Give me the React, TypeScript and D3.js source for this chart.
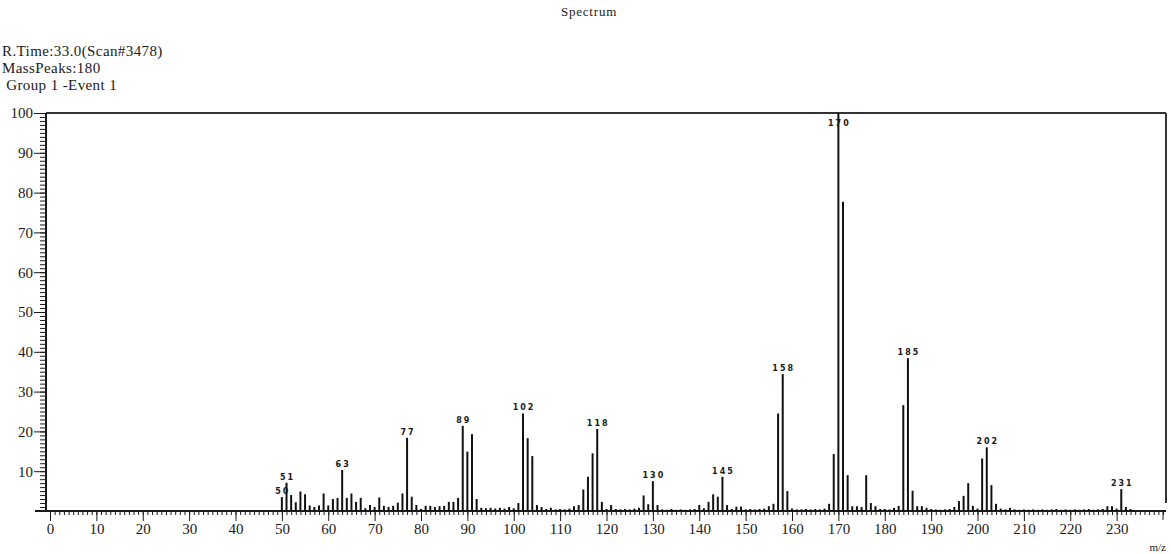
import React, { useRef, useEffect } from 'react';
import * as d3 from 'd3';

// m/z values 50..233 and their relative intensities
const massNumbers = d3.range(50, 234);
const intensities = [
  3.5, 7.1, 4.0, 2.2, 4.9, 4.2, 1.4, 1.0, 1.4, 4.4, // 50-59
  1.4, 3.0, 3.3, 10.3, 3.3, 4.4, 2.3, 3.3, 0.7, 1.5, // 60-69
  1.0, 3.4, 1.3, 1.0, 1.3, 2.1, 4.4, 18.4, 3.6, 1.5, // 70-79
  0.5, 1.3, 1.3, 1.0, 1.2, 1.3, 2.3, 2.3, 3.3, 21.4, // 80-89
  14.9, 19.3, 3.0, 0.8, 0.7, 0.8, 0.6, 0.8, 0.6, 1.0, // 90-99
  0.7, 2.0, 24.5, 18.3, 13.8, 1.5, 1.0, 0.5, 0.8, 0.4, // 100-109
  0.5, 0.4, 0.6, 1.2, 1.5, 5.4, 8.6, 14.5, 20.6, 2.3, // 110-119
  0.5, 1.5, 0.5, 0.4, 0.5, 0.4, 0.6, 0.8, 3.9, 1.7, // 120-129
  7.5, 1.5, 0.4, 0.3, 0.5, 0.3, 0.4, 0.3, 0.4, 0.5, // 130-139
  1.5, 0.7, 2.3, 4.2, 3.6, 8.6, 1.5, 0.5, 1.1, 1.1, // 140-149
  0.4, 0.5, 0.4, 0.5, 0.6, 1.2, 1.8, 24.5, 34.4, 5.0, // 150-159
  0.6, 0.4, 0.4, 0.5, 0.4, 0.5, 0.4, 0.6, 1.8, 14.3, // 160-169
  100, 77.7, 9.0, 1.2, 1.2, 1.0, 9.0, 2.0, 1.2, 0.5, // 170-179
  0.5, 0.4, 0.8, 1.3, 26.6, 38.4, 5.1, 1.2, 1.2, 0.8, // 180-189
  0.5, 0.4, 0.3, 0.4, 0.5, 1.0, 2.5, 3.8, 7.0, 1.3, // 190-199
  0.6, 13.2, 16.0, 6.5, 1.8, 0.6, 0.4, 0.8, 0.4, 0.3, // 200-209
  0.4, 0.3, 0.4, 0.3, 0.4, 0.3, 0.4, 0.5, 0.3, 0.4, // 210-219
  0.3, 0.4, 0.3, 0.4, 0.5, 0.3, 0.4, 0.5, 1.2, 1.2, // 220-229
  0.6, 5.5, 1.0, 0.5 // 230-233
];
const labeledPeaks = [50, 51, 63, 77, 89, 102, 118, 130, 145, 158, 170, 185, 202, 231];
const xMajorTicks = d3.range(0, 231, 10);
const yMajorTicks = d3.range(10, 101, 10);
const headerLines = ['R.Time:33.0(Scan#3478)', 'MassPeaks:180', ' Group 1 -Event 1'];

const width = 1171;
const height = 554;

const App = () => {
  const svgRef = useRef(null);

  useEffect(() => {
    document.body.style.margin = '0';
    const svg = d3.select(svgRef.current);
    svg.selectAll('*').remove();

    const data = massNumbers.map((m, i) => ({ mz: m, value: intensities[i] }));

    const x = d3.scaleLinear().domain([0, 240]).range([50, 1163]);
    const y = d3.scaleLinear().domain([0, 100]).range([511, 113]);
    const axisX = x(0) - 4;
    const frameRight = 1166;
    const ink = '#1a1a1a';
    const serif = 'Liberation Serif, Times New Roman, serif';

    svg.append('rect').attr('width', width).attr('height', height).attr('fill', '#fff');

    // title and header
    svg.append('text')
      .attr('x', 589).attr('y', 16)
      .attr('text-anchor', 'middle')
      .attr('font-family', serif).attr('font-size', 13)
      .attr('letter-spacing', 0.8)
      .attr('fill', ink)
      .text('Spectrum');

    svg.append('g')
      .selectAll('text')
      .data(headerLines)
      .join('text')
      .attr('x', 2)
      .attr('y', (d, i) => 56 + i * 17)
      .attr('font-family', serif).attr('font-size', 15)
      .attr('letter-spacing', 0.4)
      .attr('fill', ink)
      .style('white-space', 'pre')
      .text(d => d);

    // frame: top border and right border
    svg.append('line')
      .attr('x1', axisX).attr('x2', frameRight)
      .attr('y1', y(100)).attr('y2', y(100))
      .attr('stroke', '#333').attr('stroke-width', 2);
    svg.append('line')
      .attr('x1', frameRight).attr('x2', frameRight)
      .attr('y1', y(100)).attr('y2', y(2))
      .attr('stroke', '#333').attr('stroke-width', 2);

    // y axis: minor ticks every 1, major every 10
    const yMinor = svg.append('g')
      .attr('transform', `translate(${axisX},0)`)
      .call(d3.axisLeft(y).tickValues(d3.range(0, 101, 1)).tickSize(6).tickFormat(() => ''));
    yMinor.select('.domain').remove();
    const yMajor = svg.append('g')
      .attr('transform', `translate(${axisX},0)`)
      .call(d3.axisLeft(y).tickValues(yMajorTicks).tickSize(12).tickPadding(1));
    yMajor.select('.domain').attr('stroke', ink).attr('stroke-width', 2).attr('d', `M0,${y(100)}V${y(0)}`);
    yMajor.selectAll('text')
      .attr('font-family', serif).attr('font-size', 15).attr('fill', ink);

    // x axis: minor ticks every 1, major every 10
    const xMinor = svg.append('g')
      .attr('transform', `translate(0,${y(0)})`)
      .call(d3.axisBottom(x).tickValues(d3.range(0, 241, 1)).tickSize(4).tickFormat(() => ''));
    xMinor.select('.domain').remove();
    const xMajor = svg.append('g')
      .attr('transform', `translate(0,${y(0)})`)
      .call(d3.axisBottom(x).tickValues(xMajorTicks).tickSize(10).tickPadding(2));
    xMajor.select('.domain').remove();
    xMajor.selectAll('text')
      .attr('font-family', serif).attr('font-size', 15).attr('fill', ink);
    svg.append('line')
      .attr('x1', x(240)).attr('x2', x(240))
      .attr('y1', y(0)).attr('y2', y(0) + 9)
      .attr('stroke', ink);
    svg.selectAll('.tick line').attr('stroke', ink);

    // baseline
    svg.append('line')
      .attr('x1', 35).attr('x2', frameRight)
      .attr('y1', y(0)).attr('y2', y(0))
      .attr('stroke', ink).attr('stroke-width', 2);

    // peaks
    svg.append('g')
      .selectAll('line')
      .data(data)
      .join('line')
      .attr('x1', d => x(d.mz)).attr('x2', d => x(d.mz))
      .attr('y1', y(0)).attr('y2', d => y(d.value))
      .attr('stroke', '#111').attr('stroke-width', 2);

    // peak labels
    svg.append('g')
      .selectAll('text')
      .data(data.filter(d => labeledPeaks.includes(d.mz)))
      .join('text')
      .attr('x', d => x(d.mz) + 1)
      .attr('y', d => Math.max(y(d.value) - 3, y(100) + 13))
      .attr('text-anchor', 'middle')
      .attr('font-family', 'DejaVu Sans, sans-serif')
      .attr('font-size', 8)
      .attr('font-weight', 'bold')
      .attr('letter-spacing', 2)
      .attr('fill', ink)
      .text(d => d.mz);

    // unit label
    svg.append('text')
      .attr('x', 1166).attr('y', 551)
      .attr('text-anchor', 'end')
      .attr('font-family', serif).attr('font-size', 11)
      .attr('fill', ink)
      .text('m/z');
  }, []);

  return (
    <svg ref={svgRef} width={width} height={height} viewBox={`0 0 ${width} ${height}`} style={{ display: 'block' }} />
  );
};

export default App;
